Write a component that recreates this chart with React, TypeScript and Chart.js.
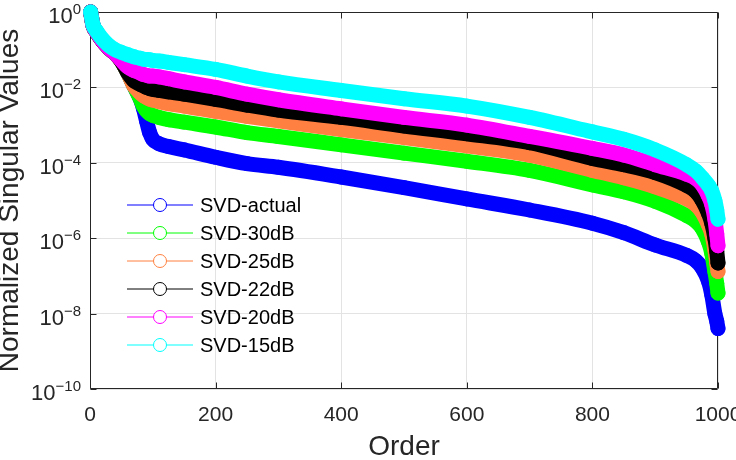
import React, { useEffect, useRef } from 'react';
import { Chart, registerables } from 'chart.js';

Chart.register(...registerables);

// Order (x) positions at which the singular values were read
const orders = [1, 5, 10, 20, 30, 40, 50, 60, 70, 80, 85, 90, 95, 100, 110, 125, 150, 200, 250, 300, 400, 500, 600, 700, 800, 850, 900, 950, 965, 975, 985, 990, 995, 998, 1000];

const svdActual = [1, 0.43, 0.3, 0.17, 0.11, 0.079, 0.05, 0.025, 0.011, 0.005, 0.0028, 0.0013, 6.3e-4, 4.2e-4, 3.2e-4, 2.7e-4, 2.2e-4, 1.4e-4, 9.5e-5, 7.6e-5, 4.2e-5, 2.2e-5, 1.1e-5, 5.6e-6, 2.5e-6, 1.4e-6, 6.6e-7, 3.5e-7, 2.5e-7, 1.6e-7, 7.1e-8, 3.2e-8, 1.0e-8, 6.3e-9, 4.0e-9];
const svd30dB = [1, 0.43, 0.3, 0.17, 0.11, 0.079, 0.05, 0.025, 0.011, 0.005, 0.0032, 0.0024, 0.002, 0.0018, 0.0016, 0.0014, 0.0012, 8.9e-4, 6.3e-4, 5.0e-4, 3.0e-4, 1.8e-4, 1.1e-4, 6.3e-5, 2.6e-5, 1.7e-5, 9.5e-6, 4.0e-6, 2.8e-6, 1.8e-6, 7.9e-7, 4.0e-7, 1.3e-7, 6.3e-8, 3.5e-8];
const svd25dB = [1, 0.43, 0.3, 0.17, 0.11, 0.079, 0.05, 0.025, 0.011, 0.0071, 0.006, 0.0054, 0.0049, 0.0046, 0.0042, 0.0037, 0.0032, 0.0023, 0.0017, 0.0013, 7.6e-4, 4.7e-4, 2.8e-4, 1.6e-4, 6.3e-5, 4.0e-5, 2.3e-5, 1.1e-5, 7.6e-6, 4.8e-6, 2.2e-6, 1.3e-6, 5.0e-7, 2.2e-7, 1.3e-7];
const svd22dB = [1, 0.43, 0.3, 0.17, 0.11, 0.079, 0.05, 0.025, 0.015, 0.012, 0.011, 0.01, 0.0093, 0.0089, 0.0083, 0.0076, 0.0066, 0.0048, 0.0034, 0.0025, 0.0016, 9.5e-4, 5.9e-4, 3.4e-4, 1.3e-4, 8.9e-5, 5.5e-5, 2.5e-5, 1.7e-5, 1.0e-5, 4.5e-6, 2.5e-6, 1.0e-6, 4.5e-7, 2.2e-7];
const svd20dB = [1, 0.43, 0.3, 0.17, 0.11, 0.079, 0.052, 0.035, 0.028, 0.024, 0.022, 0.021, 0.02, 0.02, 0.019, 0.017, 0.014, 0.01, 0.0066, 0.0047, 0.0027, 0.0016, 0.001, 5.0e-4, 2.4e-4, 1.6e-4, 8.9e-5, 5.0e-5, 3.8e-5, 2.6e-5, 1.3e-5, 7.9e-6, 3.2e-6, 1.3e-6, 6.3e-7];
const svd15dB = [1, 0.45, 0.32, 0.19, 0.13, 0.1, 0.085, 0.074, 0.065, 0.059, 0.056, 0.055, 0.054, 0.052, 0.05, 0.046, 0.04, 0.03, 0.02, 0.014, 0.0083, 0.005, 0.0032, 0.0016, 6.6e-4, 4.2e-4, 2.2e-4, 8.9e-5, 6.0e-5, 4.0e-5, 2.5e-5, 1.8e-5, 1.0e-5, 5.6e-6, 3.2e-6];

const seriesNames = ['SVD-actual', 'SVD-30dB', 'SVD-25dB', 'SVD-22dB', 'SVD-20dB', 'SVD-15dB'];
const seriesColors = ['#0000ff', '#00ff00', '#ff8040', '#000000', '#ff00ff', '#00ffff'];
const seriesValues = [svdActual, svd30dB, svd25dB, svd22dB, svd20dB, svd15dB];

const xTicks = [0, 200, 400, 600, 800, 1000];
const yExponents = [0, -2, -4, -6, -8, -10];

const FONT = '"Liberation Sans", Arial, Helvetica, sans-serif';
const AXIS_COLOR = '#262626';

const matlabAxesPlugin = {
  id: 'matlabAxes',
  beforeDatasetsDraw(chart: any) {
    const { ctx, chartArea: a, scales } = chart;
    const L = Math.round(a.left) + 0.5;
    const R = Math.round(a.right) - 0.5;
    const T = Math.round(a.top) + 0.5;
    const B = Math.round(a.bottom) - 0.5;
    ctx.save();
    ctx.strokeStyle = AXIS_COLOR;
    ctx.lineWidth = 1;
    ctx.beginPath();
    ctx.rect(L, T, R - L, B - T);
    const tl = 6;
    xTicks.forEach((v) => {
      const x = Math.round(scales.x.getPixelForValue(v)) + 0.5;
      ctx.moveTo(x, B);
      ctx.lineTo(x, B - tl);
      ctx.moveTo(x, T);
      ctx.lineTo(x, T + tl);
    });
    yExponents.forEach((e) => {
      const y = Math.round(scales.y.getPixelForValue(Math.pow(10, e))) + 0.5;
      ctx.moveTo(L, y);
      ctx.lineTo(L + tl, y);
      ctx.moveTo(R, y);
      ctx.lineTo(R - tl, y);
    });
    ctx.stroke();
    ctx.restore();
  },
  afterDraw(chart: any) {
    const { ctx, chartArea: a, scales } = chart;
    ctx.save();
    // y tick labels: 10^e with superscript exponent
    ctx.fillStyle = AXIS_COLOR;
    ctx.textAlign = 'right';
    ctx.textBaseline = 'alphabetic';
    yExponents.forEach((e) => {
      const y = scales.y.getPixelForValue(Math.pow(10, e));
      const sup = e === 0 ? '0' : '\u2212' + String(-e);
      const right = a.left - 9;
      ctx.font = `15px ${FONT}`;
      const supW = ctx.measureText(sup).width;
      ctx.fillText(sup, right, y + 2);
      ctx.font = `22px ${FONT}`;
      ctx.fillText('10', right - supW, y + 11);
    });
    // legend
    ctx.textAlign = 'left';
    ctx.textBaseline = 'middle';
    seriesNames.forEach((name, i) => {
      const y = a.top + 193 + i * 28;
      const x0 = a.left + 37;
      ctx.strokeStyle = seriesColors[i];
      ctx.lineWidth = 1;
      ctx.beginPath();
      ctx.moveTo(x0, y);
      ctx.lineTo(x0 + 66, y);
      ctx.stroke();
      ctx.beginPath();
      ctx.arc(x0 + 33, y, 6.5, 0, Math.PI * 2);
      ctx.fillStyle = '#ffffff';
      ctx.fill();
      ctx.stroke();
      ctx.fillStyle = '#000000';
      ctx.font = `20px ${FONT}`;
      ctx.fillText(name, x0 + 73, y + 1);
    });
    ctx.restore();
  },
};

export default function App() {
  const ref = useRef<HTMLCanvasElement>(null);
  useEffect(() => {
    if (!ref.current) return;
    const datasets = seriesNames.map((name, i) => ({
      label: name,
      data: orders.map((o, j) => ({ x: o, y: seriesValues[i][j] })),
      borderColor: seriesColors[i],
      backgroundColor: 'rgba(0,0,0,0)',
      borderWidth: 15,
      borderCapStyle: 'round',
      borderJoinStyle: 'round',
      pointRadius: 7,
      pointBorderWidth: 1,
      pointBorderColor: seriesColors[i],
      pointBackgroundColor: 'rgba(0,0,0,0)',
      cubicInterpolationMode: 'monotone',
      fill: false,
      clip: false,
      order: seriesNames.length - i,
    }));
    const chart = new Chart(ref.current, {
      type: 'line',
      data: { datasets } as any,
      options: {
        animation: false,
        responsive: false,
        devicePixelRatio: 1,
        layout: { padding: { left: 0, top: 12, right: 18, bottom: 0 } },
        plugins: {
          legend: { display: false },
          tooltip: { enabled: false },
        },
        scales: {
          x: {
            type: 'linear',
            min: 0,
            max: 1000,
            afterBuildTicks: (scale: any) => {
              scale.ticks = xTicks.map((v) => ({ value: v }));
            },
            afterFit: (scale: any) => {
              scale.height = 71;
              scale.paddingLeft = 0;
              scale.paddingRight = 0;
            },
            grid: { color: '#e3e3e3', lineWidth: 1, drawTicks: false },
            border: { display: false },
            ticks: {
              autoSkip: false,
              maxRotation: 0,
              padding: 14,
              color: AXIS_COLOR,
              font: { family: FONT, size: 21 },
              callback: (v: any) => String(v),
            },
            title: {
              display: true,
              text: 'Order',
              color: AXIS_COLOR,
              font: { family: FONT, size: 28, lineHeight: 0.9 },
              padding: 0,
            },
          },
          y: {
            type: 'logarithmic',
            min: 1e-10,
            max: 1,
            afterBuildTicks: (scale: any) => {
              scale.ticks = yExponents.map((e) => ({ value: Math.pow(10, e) }));
            },
            afterFit: (scale: any) => {
              scale.width = 90;
              scale.paddingTop = 0;
              scale.paddingBottom = 0;
            },
            grid: { color: '#e3e3e3', lineWidth: 1, drawTicks: false },
            border: { display: false },
            ticks: { display: false },
            title: {
              display: true,
              text: 'Normalized Singular Values',
              color: AXIS_COLOR,
              font: { family: FONT, size: 28, lineHeight: 0.74 },
              padding: 0,
            },
          },
        },
      } as any,
      plugins: [matlabAxesPlugin],
    });
    return () => chart.destroy();
  }, []);
  return (
    <div style={{ position: 'absolute', left: 0, top: 0, width: 736, height: 460, background: '#ffffff' }}>
      <canvas ref={ref} width={736} height={460} style={{ display: 'block', width: 736, height: 460 }} />
    </div>
  );
}
